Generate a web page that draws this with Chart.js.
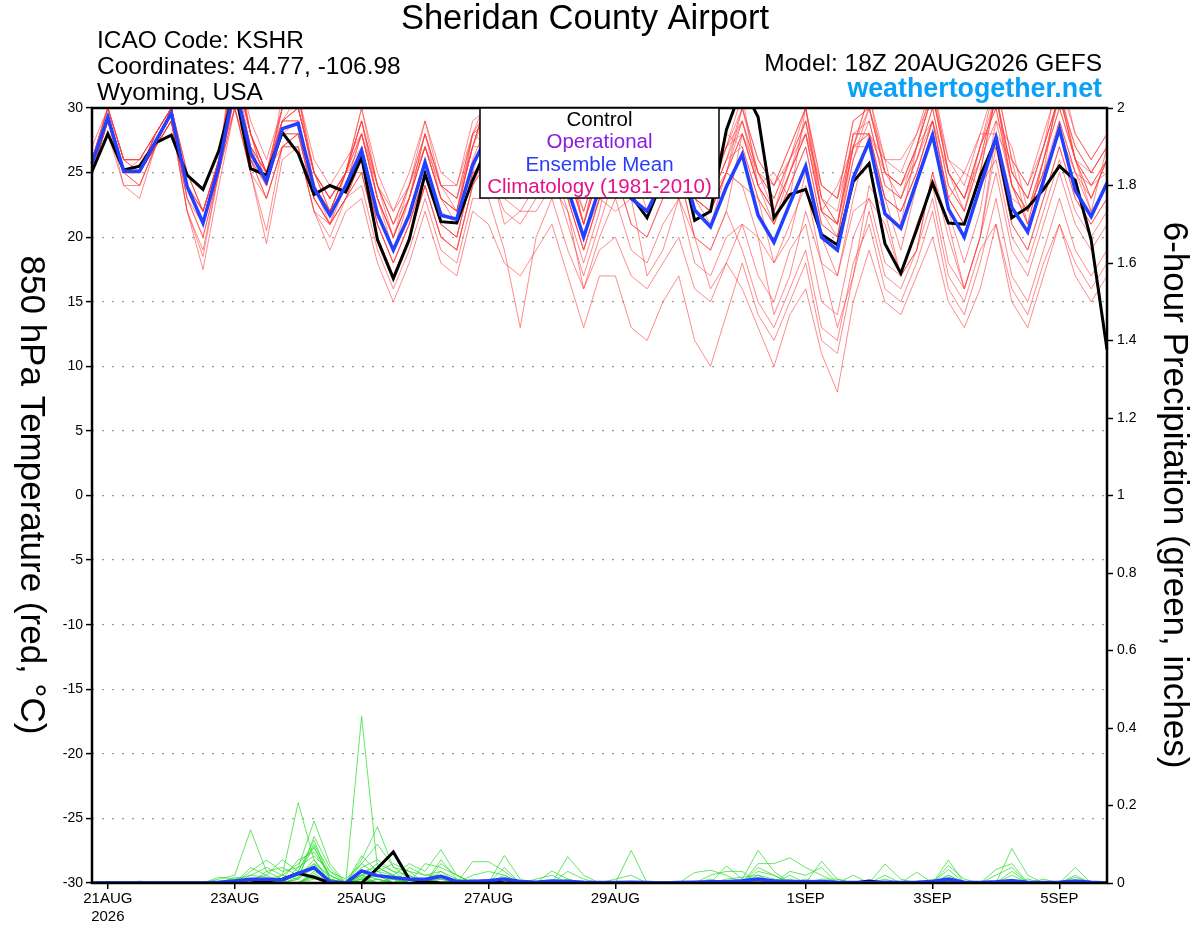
<!DOCTYPE html>
<html><head><meta charset="utf-8">
<script src="https://cdn.jsdelivr.net/npm/chart.js@4.4.1/dist/chart.umd.min.js"></script>
<style>html,body{margin:0;padding:0;background:#fff;overflow:hidden}</style>
</head><body>
<canvas id="c" width="1200" height="927"></canvas>
<script>
const times = ['18Z20AUG',
'00Z21AUG','06Z21AUG','12Z21AUG','18Z21AUG','00Z22AUG','06Z22AUG','12Z22AUG','18Z22AUG',
'00Z23AUG','06Z23AUG','12Z23AUG','18Z23AUG','00Z24AUG','06Z24AUG','12Z24AUG','18Z24AUG',
'00Z25AUG','06Z25AUG','12Z25AUG','18Z25AUG','00Z26AUG','06Z26AUG','12Z26AUG','18Z26AUG',
'00Z27AUG','06Z27AUG','12Z27AUG','18Z27AUG','00Z28AUG','06Z28AUG','12Z28AUG','18Z28AUG',
'00Z29AUG','06Z29AUG','12Z29AUG','18Z29AUG','00Z30AUG','06Z30AUG','12Z30AUG','18Z30AUG',
'00Z31AUG','06Z31AUG','12Z31AUG','18Z31AUG','00Z01SEP','06Z01SEP','12Z01SEP','18Z01SEP',
'00Z02SEP','06Z02SEP','12Z02SEP','18Z02SEP','00Z03SEP','06Z03SEP','12Z03SEP','18Z03SEP',
'00Z04SEP','06Z04SEP','12Z04SEP','18Z04SEP','00Z05SEP','06Z05SEP','12Z05SEP','18Z05SEP'];
const tickTimes = ['00Z21AUG','00Z23AUG','00Z25AUG','00Z27AUG','00Z29AUG','00Z01SEP','00Z03SEP','00Z05SEP'];
const tickTexts = [['21AUG','2026'],'23AUG','25AUG','27AUG','29AUG','1SEP','3SEP','5SEP'];
const tempTicks = [-30,-25,-20,-15,-10,-5,0,5,10,15,20,25,30];
const precipTicks = [0,0.2,0.4,0.6,0.8,1,1.2,1.4,1.6,1.8,2];

const tempControl = [25.1,28.0,25.2,25.5,27.3,27.9,24.8,23.7,26.7, 31.5,25.3,24.8,28.1,26.5,23.3,24.0,23.5, 26.2,19.8,16.8,19.8,24.9,21.2,21.1,24.4, 27.2,25.5,24.2,26.0,28.2,25.5,24.0,25.3, 27.6,23.2,21.5,24.5,26.8,21.3,22.0,28.3, 31.7,29.3,21.5,23.3,23.7,20.2,19.4,24.3, 25.7,19.5,17.2,20.6,24.2,21.1,21.0,24.7, 27.6,21.5,22.3,23.7,25.5,24.4,19.8,11.3];
const tempMean = [25.7,29.3,25.1,25.1,27.4,29.6,23.9,21.1,25.5, 31.8,26.5,24.3,28.4,28.8,23.8,21.7,24.0, 26.7,21.8,19.0,21.7,25.8,21.7,21.4,25.6, 28.0,25.0,23.6,25.8,27.8,23.7,20.0,23.8, 26.8,23.0,22.0,24.5,26.5,22.1,20.8,23.9, 26.4,21.7,19.6,22.6,25.5,20.0,19.0,24.6, 27.4,21.8,20.7,24.3,27.9,22.2,20.0,23.9, 27.7,22.3,20.4,24.4,28.4,23.6,21.6,24.2];

const tempMember01 = [26,30,26,25,28,30,24,22,26, 33,28,25,29,30,25,23,25, 29,24,21,23,28,24,23,28, 30,27,26,28,31,25,22,26, 29,25,24,27,29,24,23,26, 29,25,23,26,29,23,21,28, 29,24,23,26,30,24,22,26, 31,25,23,27,31,26,25,27];
const tempMember02 = [25,29,25,24,27,29,23,20,25, 31,26,23,27,28,23,21,23, 25,20,17,20,24,20,19,24, 26,21,22,22,24,22,16,20, 23,19,18,21,23,18,17,20, 21,17,15,19,21,15,14,20, 23,18,17,21,24,18,16,20, 25,19,17,21,25,21,19,21];
const tempMember03 = [26,29,25,26,27,30,24,21,26, 35,28,24,31,31,25,22,25, 29,23,19,23,28,23,21,28, 31,28,25,28,31,26,21,26, 31,26,24,28,31,25,23,27, 29,24,21,25,29,22,20,27, 31,25,23,27,32,25,22,27, 31,24,21,26,31,26,23,26];
const tempMember04 = [25,29,25,25,27,29,22,17.5,24, 30,25,20.5,27,27,22,21,23, 24,19,16,19,23,19,18,23, 23,19,13,20,23,19,16,19, 20,17,16,18,20,16,15,18, 16,13,10,14,16,11,8,15, 19,15,14,17,20,15,13,16, 21,16,14,18,21,18,16,18];
const tempMember05 = [27,30,26,26,28,30,25,22,26, 32,27,25,29,29,24,22,25, 29,24,21,24,28,24,23,28, 29,26,25,27,29,25,21,25, 30,26,25,28,30,25,24,27, 30,26,24,27,30,24,23,29, 30,25,24,27,31,25,23,27, 32,26,24,28,32,28,26,28];
const tempMember06 = [25,28,24,24,27,29,23,20,25, 32,27,25,28,29,24,22,25, 26,21,18,21,25,21,20,25, 29,26,25,27,29,25,21,25, 25,21,20,23,25,20,19,22, 28,24,22,25,28,22,21,27, 27,23,19,24,28,22,18,22, 29,27,22,25,32,26,22,27];
const tempMember07 = [26,29,25,25,28,30,24,21,26, 30,26,25,27,28,24,22,24, 28,24,22,24,27,24,23,27, 30,28,27,28,30,27,24,27, 27,24,24,26,27,23,23,25, 28,25,24,26,28,24,23,27, 30,26,26,28,31,26,25,28, 28,23,22,25,28,25,24,25];
const tempMember08 = [26,29,25,25,27,30,24,21,26, 33,27,24,29,31,25,22,25, 25,20,17,20,24,20,19,24, 26,23,22,24,26,22,18,22, 28,24,23,26,28,23,22,25, 24,20,18,21,24,18,17,23, 28,23,22,25,29,23,21,25, 27,21,19,23,27,23,21,23];
const tempMember09 = [26,30,26,26,28,30,24,22,26, 34,28,24,30,31,24,21,25, 28,23,20,23,27,23,22,27, 31,28,27,29,31,27,23,27, 32,27,25,29,32,26,24,28, 27,23,21,24,27,21,20,26, 29,24,23,26,30,24,22,26, 31,25,23,27,31,27,25,27];
const tempMember10 = [25,29,25,24,27,29,22,19,25, 30,25,19.5,26,27,22,19,22, 23,18,15,18,22,18,17,22, 21,18,17,19,21,17,13,17, 17,13,12,15,17,12,10,14, 18,14,12,15,18,12,11,17, 22,17,16,19,23,17,15,19, 21,15,13,17,21,17,15,17];
const tempMember11 = [26,30,26,26,28,30,25,22,26, 33,28,25,30,30,25,23,25, 29,24,21,24,28,24,24,28, 29,27,27,28,29,27,24,26, 28,24,23,26,28,23,22,25, 29,25,23,26,29,23,22,28, 28,25,24,26,29,25,23,26, 29,24,22,25,29,25,23,26];
const tempMember12 = [25,29,25,25,27,29,24,21,25, 31,26,23,27,28,23,21,23, 26,21,18,21,25,21,20,25, 26,28,23,25,28,24,20,23, 28,26,22,24,29,23,21,25, 24,23,18,20,25,20,17,22, 23,21,17,19,25,20,16,20, 28,26,21,24,29,25,22,24];
const tempMember13 = [26,30,26,25,28,30,24,22,26, 34,28,25,30,30,25,23,25, 28,23,20,23,27,23,22,27, 27,24,23,25,27,23,19,23, 29,25,24,27,29,24,23,26, 30,25,22,26,30,23,21,28, 28,23,22,25,29,23,21,25, 31,24,21,26,31,26,23,26];
const tempMember14 = [25,29,24,23,27,29,22,18.5,25, 31,26,24,28,28,23,21,23, 25,20,17,20,24,20,19,24, 27,24,23,25,27,23,19,23, 22,23,17,19,23,20,16,18, 21,20,14,17,22,18,13,17, 24,22,17,19,25,21,16,20, 27,21,19,23,27,23,21,23];
const tempMember15 = [26,29,25,25,28,30,24,21,26, 32,27,25,29,29,24,22,25, 30,25,22,25,29,25,24,29, 30,27,26,28,30,26,22,26, 30,26,25,28,30,25,24,27, 28,24,22,25,28,22,21,27, 31,26,25,28,32,26,24,28, 32,26,24,27,33,28,26,28];
const tempMember16 = [25,29,25,25,27,29,23,21,25, 30,25,23,27,27,22,20,23, 26,21,18,21,25,21,20,25, 25,22,21,23,25,21,17,21, 25,21,20,23,25,20,19,22, 19,15,13,16,19,13,12,18, 21,16,15,18,22,16,14,18, 23,17,15,19,23,19,17,19];
const tempMember17 = [26,30,26,26,28,30,25,22,26, 34,29,26,30,31,26,24,26, 28,23,20,23,27,23,22,27, 31,28,27,29,31,27,23,27, 29,25,24,27,29,24,23,26, 27,23,21,24,27,21,20,26, 30,25,24,27,31,25,23,27, 30,24,22,26,30,26,24,26];
const tempMember18 = [25,29,25,25,27,29,24,21,25, 33,28,25,29,30,25,23,25, 30,24,20,24,29,24,22,28, 27,24,23,25,27,23,19,23, 28,24,23,26,28,23,22,25, 28,24,22,25,28,22,21,27, 28,23,22,25,29,23,21,25, 31,25,23,27,31,27,25,27];
const tempMember19 = [26,29,25,25,27,30,24,21,26, 31,26,24,28,28,23,21,24, 28,23,20,23,27,23,22,27, 31,27,25,28,31,26,21,26, 30,26,25,28,30,25,24,27, 31,24,25,23,30,22,24,27, 28,26,21,27,29,23,25,24, 26,20,18,22,26,22,20,22];
const tempMember20 = [26,29,25,25,28,30,24,21,26, 33,28,25,29,30,25,23,25, 27,22,19,22,26,22,21,26, 29,26,25,27,29,25,21,25, 28,24,23,26,28,23,22,25, 30,26,24,27,30,24,23,29, 30,25,24,27,31,25,23,27, 30,24,22,26,30,26,24,26];

const precipControl = [0,0,0,0,0,0,0,0,0, 0,0,0.005,0.01,0.025,0.015,0,0, 0,0.038,0.08,0.01,0.003,0,0,0.003, 0.005,0,0.002,0,0,0,0,0, 0,0,0,0,0,0,0,0, 0,0,0,0,0.004,0,0,0, 0.005,0,0,0,0,0,0,0, 0,0,0,0,0,0,0,0];
const precipMean = [0,0,0,0,0,0,0,0,0.002, 0.005,0.01,0.01,0.008,0.025,0.04,0.003,0, 0.031,0.019,0.014,0.01,0.01,0.017,0.004,0.004, 0.006,0.01,0.004,0.002,0.005,0.004,0.002,0.001, 0.001,0.002,0.001,0,0.001,0.002,0.003,0.003, 0.006,0.01,0.005,0.004,0.003,0.004,0.002,0.001, 0.001,0.002,0.001,0.002,0.004,0.01,0.002,0.001, 0.003,0.006,0.002,0.001,0.002,0.005,0.002,0];

const precipMember01 = [0,0,0,0,0,0,0,0,0.01, 0.02,0.137,0.03,0.01,0.02,0.05,0.02,0, 0.03,0.02,0.01,0,0,0,0,0, 0,0.02,0,0,0.031,0.01,0,0, 0,0,0,0,0,0,0,0, 0,0.02,0.01,0,0,0,0,0, 0,0,0,0,0,0.02,0,0, 0,0,0,0,0,0,0,0];
const precipMember02 = [0,0,0,0,0,0,0,0,0, 0.01,0.02,0.04,0.02,0.207,0.06,0.01,0, 0.02,0.05,0.03,0.02,0,0.03,0.01,0, 0,0,0,0,0,0,0,0, 0,0.084,0,0,0,0,0,0, 0,0,0,0.02,0,0,0,0, 0,0,0,0,0,0,0,0, 0,0.02,0,0,0,0,0,0];
const precipMember03 = [0,0,0,0,0,0,0,0,0, 0,0.03,0.059,0.03,0.04,0.16,0.05,0, 0.06,0.145,0.04,0.03,0.02,0.02,0,0.055, 0.055,0.03,0,0,0,0,0,0, 0,0,0,0,0,0,0,0.044, 0.01,0.084,0.03,0,0,0,0,0, 0,0,0,0,0,0.059,0,0, 0,0,0,0,0,0,0,0];
const precipMember04 = [0,0,0,0.005,0,0,0,0,0, 0.015,0.01,0.02,0.06,0.03,0.1,0.03,0, 0.43,0.04,0.02,0.05,0.03,0.086,0.02,0, 0,0.071,0.01,0,0,0.068,0.02,0, 0,0,0,0,0,0,0,0, 0,0,0,0,0,0.056,0.01,0, 0,0,0,0,0,0,0,0, 0,0.089,0.02,0,0,0,0,0];
const precipMember05 = [0,0,0,0,0,0,0,0,0, 0,0,0.01,0.02,0.05,0.09,0.02,0, 0.05,0.1,0.042,0.01,0,0.06,0.01,0, 0,0.04,0,0,0,0,0,0, 0,0,0,0,0,0.027,0.033,0.02, 0,0,0,0,0,0,0,0, 0,0.049,0.01,0,0,0,0,0, 0,0,0,0,0,0.04,0,0];
const precipMember06 = [0,0,0,0,0,0,0,0,0, 0,0.02,0.015,0,0.03,0.11,0.01,0, 0.02,0.03,0.02,0,0.05,0.04,0.02,0, 0,0,0,0.01,0.02,0,0,0, 0,0,0,0,0,0,0,0, 0,0.05,0.05,0.065,0.04,0.02,0,0, 0,0,0,0,0,0,0,0, 0.035,0.05,0,0,0,0,0,0];
const precipMember07 = [0,0,0,0,0,0,0,0,0, 0.01,0,0,0.01,0.06,0.08,0.02,0, 0.07,0.03,0.05,0.03,0,0.02,0,0.02, 0.03,0.02,0,0,0,0,0,0, 0,0,0,0,0,0,0.02,0.03, 0.03,0,0,0,0,0,0,0, 0,0,0,0.028,0,0.045,0.01,0, 0,0.03,0,0,0,0,0,0];
const precipMember08 = [0,0,0,0,0,0,0,0,0.015, 0.01,0,0.03,0.04,0.02,0.095,0.01,0, 0.04,0.06,0.03,0,0,0.05,0.02,0, 0,0,0,0,0,0.03,0.01,0, 0,0,0,0,0,0,0,0, 0,0,0,0.03,0.02,0.04,0,0, 0,0,0,0,0,0.035,0,0, 0,0,0,0,0,0.02,0,0];
const precipMember09 = [0,0,0,0,0,0,0,0,0, 0,0.04,0.02,0,0.04,0.07,0.03,0.01, 0.05,0.02,0,0.04,0.02,0.03,0,0, 0,0,0,0,0,0,0,0, 0,0,0,0,0,0,0,0, 0,0.03,0.02,0,0,0,0,0.02, 0,0.02,0,0,0,0,0,0, 0.02,0.04,0,0,0,0,0,0];
const precipMember10 = [0,0,0,0,0,0,0,0,0, 0,0,0,0.02,0.01,0.04,0,0, 0.03,0.04,0.02,0,0.01,0.02,0,0, 0,0.01,0,0,0,0,0,0, 0.01,0.02,0,0,0,0,0,0.01, 0.015,0.02,0,0,0,0,0,0, 0,0,0,0,0,0.02,0,0, 0,0,0,0,0,0.015,0,0];
const precipMember11 = [0,0,0,0,0,0,0,0,0, 0,0,0,0,0,0.03,0.01,0, 0.01,0.02,0.01,0,0,0,0,0.01, 0,0,0,0,0,0,0,0, 0,0,0,0,0,0,0.01,0, 0,0.04,0.02,0,0,0,0,0, 0,0,0,0,0,0,0,0, 0,0,0,0.01,0,0,0,0];
const precipMember12 = [0,0,0,0,0,0,0,0,0, 0,0,0,0,0.015,0.06,0,0, 0.02,0.01,0,0.02,0,0,0,0, 0,0,0,0,0,0,0,0, 0,0,0,0,0,0,0,0, 0,0,0,0,0,0.01,0.01,0, 0,0,0,0,0,0,0,0, 0,0,0,0,0,0,0,0];
const precipMember13 = [0,0,0,0,0,0,0,0,0, 0,0.01,0.01,0,0,0.02,0,0, 0.015,0,0.01,0,0,0.01,0,0, 0,0,0,0,0,0,0,0, 0,0,0,0,0,0,0,0, 0,0,0,0.01,0,0,0,0, 0,0,0,0,0.01,0,0,0, 0,0.01,0,0,0,0,0,0];
const precipMember14 = [0,0,0,0,0,0,0,0,0, 0,0,0,0,0,0.01,0.005,0, 0,0.01,0,0,0.01,0,0,0, 0,0,0,0,0,0.01,0,0, 0,0,0,0,0,0,0,0, 0,0,0,0,0.01,0,0,0, 0,0,0,0,0,0.01,0,0, 0,0,0,0,0,0,0,0];
const precipMember15 = [0,0.003,0,0,0,0,0,0,0, 0,0,0,0,0.01,0.12,0.04,0, 0.01,0.03,0,0,0,0,0,0, 0,0,0,0,0,0,0,0, 0,0,0,0,0,0,0,0, 0,0.01,0,0,0,0,0,0, 0,0,0,0,0,0,0,0, 0,0,0,0,0,0,0,0];
const precipMember16 = [0,0,0,0,0,0,0,0,0, 0,0,0,0.005,0.02,0.035,0,0, 0.02,0,0,0,0,0.01,0,0, 0,0,0,0,0,0,0,0, 0,0,0,0,0,0,0,0, 0,0,0,0,0,0,0,0, 0,0,0,0,0,0,0,0, 0,0,0.01,0,0,0,0,0];
const precipMember17 = [0,0,0,0,0,0,0,0,0, 0,0,0,0,0,0.015,0,0, 0,0.01,0,0,0,0,0,0, 0,0.01,0,0,0,0,0,0, 0,0,0,0,0,0,0,0, 0,0,0,0,0,0,0,0, 0,0,0,0,0,0.005,0,0, 0,0,0,0,0,0,0,0];
const precipMember18 = [0,0,0,0,0,0,0,0,0, 0,0,0,0,0.01,0.05,0,0, 0.01,0,0.015,0,0,0,0,0, 0,0,0,0,0,0,0,0, 0,0,0,0,0,0,0,0, 0,0,0.01,0,0,0,0,0, 0,0,0,0,0,0,0,0, 0,0,0,0,0,0,0,0];
const precipMember19 = [0,0,0,0,0,0,0,0,0, 0.005,0,0,0,0,0.02,0,0, 0,0,0,0.01,0,0,0,0, 0,0,0,0,0,0,0,0, 0,0,0,0,0,0,0,0, 0,0,0,0,0,0,0,0, 0,0.01,0,0,0,0,0,0, 0,0,0,0,0,0,0,0];
const precipMember20 = [0,0,0,0,0,0,0,0,0, 0,0,0,0,0,0.025,0,0, 0.005,0.02,0,0,0,0.015,0,0, 0,0,0,0,0,0,0,0, 0,0,0,0,0,0,0,0, 0,0,0,0,0,0,0,0, 0,0,0,0,0,0,0,0, 0,0,0,0,0,0,0,0];

const tempMembers = [tempMember01,tempMember02,tempMember03,tempMember04,tempMember05,tempMember06,tempMember07,tempMember08,tempMember09,tempMember10,tempMember11,tempMember12,tempMember13,tempMember14,tempMember15,tempMember16,tempMember17,tempMember18,tempMember19,tempMember20];
const precipMembers = [precipMember01,precipMember02,precipMember03,precipMember04,precipMember05,precipMember06,precipMember07,precipMember08,precipMember09,precipMember10,precipMember11,precipMember12,precipMember13,precipMember14,precipMember15,precipMember16,precipMember17,precipMember18,precipMember19,precipMember20];

const FONT = "'Liberation Sans', Arial, Helvetica, sans-serif";
const RED = 'rgba(255,60,60,0.75)';
const GREEN = 'rgba(40,220,40,0.9)';
const BLUE = '#2340ff';

const datasets = [];
datasets.push({data: precipMean, yAxisID:'y1', borderColor: BLUE, borderWidth: 3.5});
datasets.push({data: precipControl, yAxisID:'y1', borderColor: '#000', borderWidth: 3});
datasets.push({data: tempMean, yAxisID:'y', borderColor: BLUE, borderWidth: 3.5});
datasets.push({data: tempControl, yAxisID:'y', borderColor: '#000', borderWidth: 3});
precipMembers.forEach(m => datasets.push({data: m, yAxisID:'y1', borderColor: GREEN, borderWidth: 0.8}));
tempMembers.forEach(m => datasets.push({data: m, yAxisID:'y', borderColor: RED, borderWidth: 0.8}));
datasets.forEach(d => { d.pointRadius = 0; d.tension = 0; d.fill = false; });

const decor = {
  id: 'decor',
  beforeDraw(chart) {
    const ctx = chart.ctx;
    ctx.save(); ctx.fillStyle = '#fff'; ctx.fillRect(0, 0, chart.width, chart.height); ctx.restore();
  },
  afterDatasetsDraw(chart) {
    const ctx = chart.ctx, a = chart.chartArea;
    ctx.save();
    ctx.strokeStyle = '#000'; ctx.lineWidth = 2.5;
    ctx.strokeRect(a.left, a.top, a.right - a.left, a.bottom - a.top);
    // legend box
    ctx.fillStyle = '#fff';
    ctx.fillRect(480, a.top, 239, 90);
    ctx.lineWidth = 1.5;
    ctx.strokeRect(480, a.top, 239, 90);
    ctx.textAlign = 'center'; ctx.textBaseline = 'alphabetic';
    ctx.font = '20.5px ' + FONT;
    const lx = 599.5;
    ctx.fillStyle = '#000'; ctx.fillText('Control', lx, 126);
    ctx.fillStyle = '#8a1ee0'; ctx.fillText('Operational', lx, 148);
    ctx.fillStyle = '#2a3cf5'; ctx.fillText('Ensemble Mean', lx, 170.5);
    ctx.fillStyle = '#e6128a'; ctx.fillText('Climatology (1981-2010)', lx, 193);
    // titles
    ctx.fillStyle = '#000';
    ctx.font = '34.5px ' + FONT;
    ctx.fillText('Sheridan County Airport', 585, 29);
    ctx.textAlign = 'left';
    ctx.font = '24.5px ' + FONT;
    ctx.fillText('ICAO Code: KSHR', 97, 48);
    ctx.fillText('Coordinates: 44.77, -106.98', 97, 74);
    ctx.fillText('Wyoming, USA', 97, 100);
    ctx.textAlign = 'right';
    ctx.fillText('Model: 18Z 20AUG2026 GEFS', 1102, 71);
    ctx.fillStyle = '#0aa0f5';
    ctx.font = 'bold 26.8px ' + FONT;
    ctx.fillText('weathertogether.net', 1102, 97);
    // axis titles
    ctx.fillStyle = '#000';
    ctx.font = '35px ' + FONT;
    ctx.textAlign = 'center'; ctx.textBaseline = 'middle';
    ctx.save(); ctx.translate(31, 495); ctx.rotate(Math.PI / 2);
    ctx.fillText('850 hPa Temperature (red, \u00B0C)', 0, 0); ctx.restore();
    ctx.save(); ctx.translate(1174, 495); ctx.rotate(Math.PI / 2);
    ctx.fillText('6-hour Precipitation (green, inches)', 0, 0); ctx.restore();
    ctx.restore();
  }
};

new Chart(document.getElementById('c'), {
  type: 'line',
  data: { labels: times, datasets },
  options: {
    responsive: false, animation: false, devicePixelRatio: 1,
    layout: { padding: { top: 108, left: 0, right: 0, bottom: 0 } },
    plugins: { legend: { display: false }, tooltip: { enabled: false }, title: { display: false } },
    scales: {
      x: {
        type: 'category', offset: false,
        afterBuildTicks: (ax) => { ax.ticks = tickTimes.map(t => ({ value: times.indexOf(t) })); },
        afterFit: (s) => { s.height = 44; },
        grid: { drawOnChartArea: false, drawTicks: true, tickLength: 6, color: '#000', lineWidth: 1.5 },
        border: { display: false },
        ticks: { autoSkip: false, maxRotation: 0, minRotation: 0, padding: 1, color: '#000',
          font: { family: FONT, size: 15 },
          callback: (v) => tickTexts[tickTimes.indexOf(times[v])] }
      },
      y: {
        position: 'left', min: -30, max: 30,
        afterBuildTicks: (ax) => { ax.ticks = tempTicks.map(v => ({ value: v })); },
        afterFit: (s) => { s.width = 92; },
        grid: { color: '#9a9a9a', lineWidth: 1.2, tickColor: '#000', tickBorderDash: [], tickLength: 6, tickWidth: 1.5 },
        border: { display: false, dash: [2, 8] },
        ticks: { padding: 3, color: '#000', font: { family: FONT, size: 14 }, callback: (v) => String(v) }
      },
      y1: {
        position: 'right', min: 0, max: 2,
        afterBuildTicks: (ax) => { ax.ticks = precipTicks.map(v => ({ value: v })); },
        afterFit: (s) => { s.width = 93; },
        grid: { drawOnChartArea: false, tickColor: '#000', tickLength: 6, tickWidth: 1.5, color: '#000' },
        border: { display: false },
        ticks: { padding: 4, color: '#000', font: { family: FONT, size: 14 }, callback: (v) => String(+(+v).toFixed(1)) }
      }
    }
  },
  plugins: [decor]
});
</script>
</body></html>
